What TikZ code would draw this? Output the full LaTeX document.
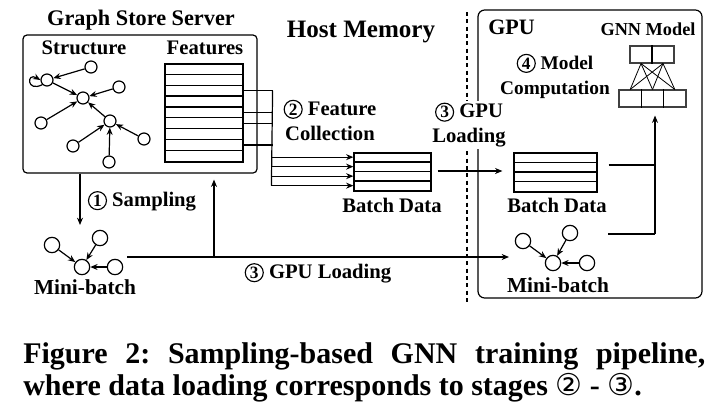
\documentclass[tikz,border=0pt]{standalone}
\usepackage{fontspec}
\setmainfont{Liberation Serif}
\newfontfamily\symf{DejaVu Sans}
\usetikzlibrary{arrows.meta,calc}
\newcommand{\cnum}[1]{\tikz[baseline=(cc.base)]\node[circle,draw,line width=0.85pt,inner sep=0pt,minimum size=13.5pt,font=\fontsize{13}{13}\selectfont\bfseries](cc){#1};}
\newcommand{\cnumc}[1]{{\symf\mdseries #1}}
\begin{document}
\begin{tikzpicture}[x=0.75pt,y=-0.75pt,
  lbl/.style={font=\fontsize{15.5}{18.75}\selectfont\bfseries, inner sep=0, align=center},
  small/.style={font=\fontsize{13.7}{16}\selectfont\bfseries, inner sep=0},
  gn/.style={circle, draw, line width=0.9pt, minimum size=9pt, inner sep=0},
  mb/.style={circle, draw, line width=0.9pt, minimum size=11.5pt, inner sep=0},
  arr/.style={-{Stealth[length=5.5pt,width=4.5pt]}, line width=0.9pt},
  ln/.style={line width=0.9pt},
  tbl/.style={draw, line width=0.9pt, inner sep=0},
  captext/.style={font=\fontsize{22.5}{26}\selectfont\bfseries, inner sep=0, anchor=base west}
]
\useasboundingbox (0,0) rectangle (720,414);

% ---------- Graph store server ----------
\node[draw, line width=0.9pt, rounded corners=3pt, minimum width=175.5pt, minimum height=103.5pt, inner sep=0] (server) at (140,104) {};
\node[lbl, font=\fontsize{16.7}{19}\selectfont\bfseries] (tserver) at (141,20) {Graph Store Server};
\node[lbl] (tstruct) at (84,48) {Structure};
\node[lbl] (tfeat) at (205,48) {Features};

% structure graph
\node[gn] (sA) at (91,67) {};
\node[gn] (sB) at (47,80) {};
\node[gn] (sC) at (83,98) {};
\node[gn] (sD) at (119,87) {};
\node[gn] (sE) at (41,123) {};
\node[gn] (sF) at (110,121) {};
\node[gn] (sG) at (73,146) {};
\node[gn] (sH) at (109,162) {};
\node[gn] (sI) at (144,139) {};
\draw[arr] (sA) -- (sB);
\draw[arr] (sB) -- (sC);
\draw[arr] (sD) -- (sC);
\draw[arr] (sE) -- (sC);
\draw[arr] (sF) -- (sC);
\draw[arr] (sG) -- (sF);
\draw[arr] (sH) -- (sF);
\draw[arr] (sI) -- (sF);
\draw[arr] (sB.south west) .. controls +(-16,8) and +(-14,-8) .. (sB.west);

% features table
\node[tbl, minimum width=58.5pt, minimum height=73.5pt] (feat) at (204,113) {};
\foreach \k in {1,...,8}
  \draw[ln] ($(feat.north west)+(0,{\k*98/9})$) -- ++(78,0);

% feature collection connectors
\foreach \r in {3,5,6,8}
  \draw[ln] ($(feat.north east)+(0,{(\r-0.5)*98/9})$) -- ++(29,0);

% host batch data
\node[tbl, minimum width=57.75pt, minimum height=28.5pt] (hb) at (392.5,172) {};
\foreach \k in {1,2,3}
  \draw[ln] ($(hb.north west)+(0,{\k*9.5})$) -- ++(77,0);
\draw[ln] ($(feat.north east)+(29,{2.5*98/9})$) -- ($(hb.north west)+(-82,33.25)$);
\foreach \r in {1,...,4}
  \draw[arr] ($(hb.north west)+(-82,{(\r-0.5)*9.5})$) -- ++(82,0);
\node[lbl] (thb) at (392,205) {Batch Data};
\node[lbl] (tfc) at (330,120) {\cnum{2} Feature\\Collection};

\node[lbl, font=\fontsize{18.8}{21}\selectfont\bfseries] (thost) at (361,32) {Host Memory};

% divider
\coordinate (dtop) at (467,12);
\coordinate (dbot) at (467,302);
\draw[line width=1pt, dash pattern=on 3pt off 2.5pt] (dtop) -- (dbot);

% ---------- GPU ----------
\node[draw, line width=0.9pt, rounded corners=5pt, minimum width=168pt, minimum height=216pt, inner sep=0] (gpu) at (590,154) {};
\node[lbl, anchor=west, font=\fontsize{16.5}{19}\selectfont\bfseries] (tgpu) at (488,27) {GPU};
\node[small] (tgnn) at (648,29) {GNN Model};
\node[lbl, font=\fontsize{14.5}{18.75}\selectfont\bfseries] (tmc) at (555,76) {\cnum{4} Model\\Computation};

% GNN model
\node[draw=black!75, line width=0.8pt, minimum width=33pt, minimum height=12.75pt, inner sep=0] (gnnt) at (652,54.5) {};
\node[draw=black!75, line width=0.8pt, minimum width=50.25pt, minimum height=12.75pt, inner sep=0] (gnnb) at (652.5,98.5) {};
\draw[line width=0.8pt] (gnnt.north) -- (gnnt.south);
\draw[line width=0.8pt] ($(gnnb.north)+(-11.17,0)$) -- ($(gnnb.south)+(-11.17,0)$);
\draw[line width=0.8pt] ($(gnnb.north)+(11.17,0)$) -- ($(gnnb.south)+(11.17,0)$);
\foreach \a in {-11,11}
  \foreach \b in {-22.33,0,22.33}
    \draw[line width=0.6pt] ($(gnnt.south)+(\a,0)$) -- ($(gnnb.north)+(\b,0)$);

% GPU batch data
\node[tbl, minimum width=62.25pt, minimum height=29.25pt] (gb) at (555.5,172.5) {};
\foreach \k in {1,2,3}
  \draw[ln] ($(gb.north west)+(0,{\k*39/4})$) -- ++(83,0);
\node[lbl] (tgb) at (557,205) {Batch Data};
\draw[arr] ($(hb.east)+(6,-1)$) -- ($(gb.west)+(-11,-1.5)$);
\node[lbl, fill=white, inner sep=1pt] (tgl) at (469,125) {\cnum{3} GPU\\Loading};

% GPU mini-batch
\node[mb] (g1) at (523,241) {};
\node[mb] (g2) at (570,233) {};
\node[mb] (g3) at (553,263) {};
\node[mb] (g4) at (587,263) {};
\draw[arr] (g1) -- (g3);
\draw[arr] (g2) -- (g3);
\draw[arr] (g4) -- (g3);
\node[lbl, font=\fontsize{16}{19}\selectfont\bfseries] (tgmb) at (558,285) {Mini-batch};

% joining into GNN
\coordinate (jn) at (655,234);
\coordinate (jt) at (655,165);
\draw[ln] ($(gb.east)+(11,-7.5)$) -- (jt);
\draw[ln] (608,234) -- (jn);
\draw[arr] (jn) -- ([yshift=-6pt]jn |- gnnb.south);

% ---------- sampling ----------
\coordinate (sx) at (80,225);
\draw[arr] (server.south -| sx) -- (sx);
\node[lbl] (tsamp) at (142,201) {\cnum{1} Sampling};

% host mini-batch
\node[mb] (l1) at (52,245) {};
\node[mb] (l2) at (100,238) {};
\node[mb] (l3) at (82,267) {};
\node[mb] (l4) at (115,267) {};
\draw[arr] (l1) -- (l3);
\draw[arr] (l2) -- (l3);
\draw[arr] (l4) -- (l3);
\node[lbl, font=\fontsize{16}{19}\selectfont\bfseries] (tlmb) at (85,287) {Mini-batch};

% bottom GPU loading
\coordinate (bl) at (127,257);
\coordinate (gin) at (509,257);
\coordinate (up) at (214,257);
\draw[arr] (bl) -- (gin);
\draw[arr] (up) -- ([yshift=-4.5pt]up |- server.south);
\node[lbl] (tbotl) at (318,273) {\cnum{3} GPU Loading};

% ---------- caption ----------
\node[captext] (cap1) at (23,363) {\frenchspacing\makebox[511.5pt][s]{Figure 2: Sampling-based GNN training pipeline,}};
\node[captext] (cap2) at (23,395) {where data loading corresponds to stages \cnumc{②} - \cnumc{③}.};
\end{tikzpicture}
\end{document}
